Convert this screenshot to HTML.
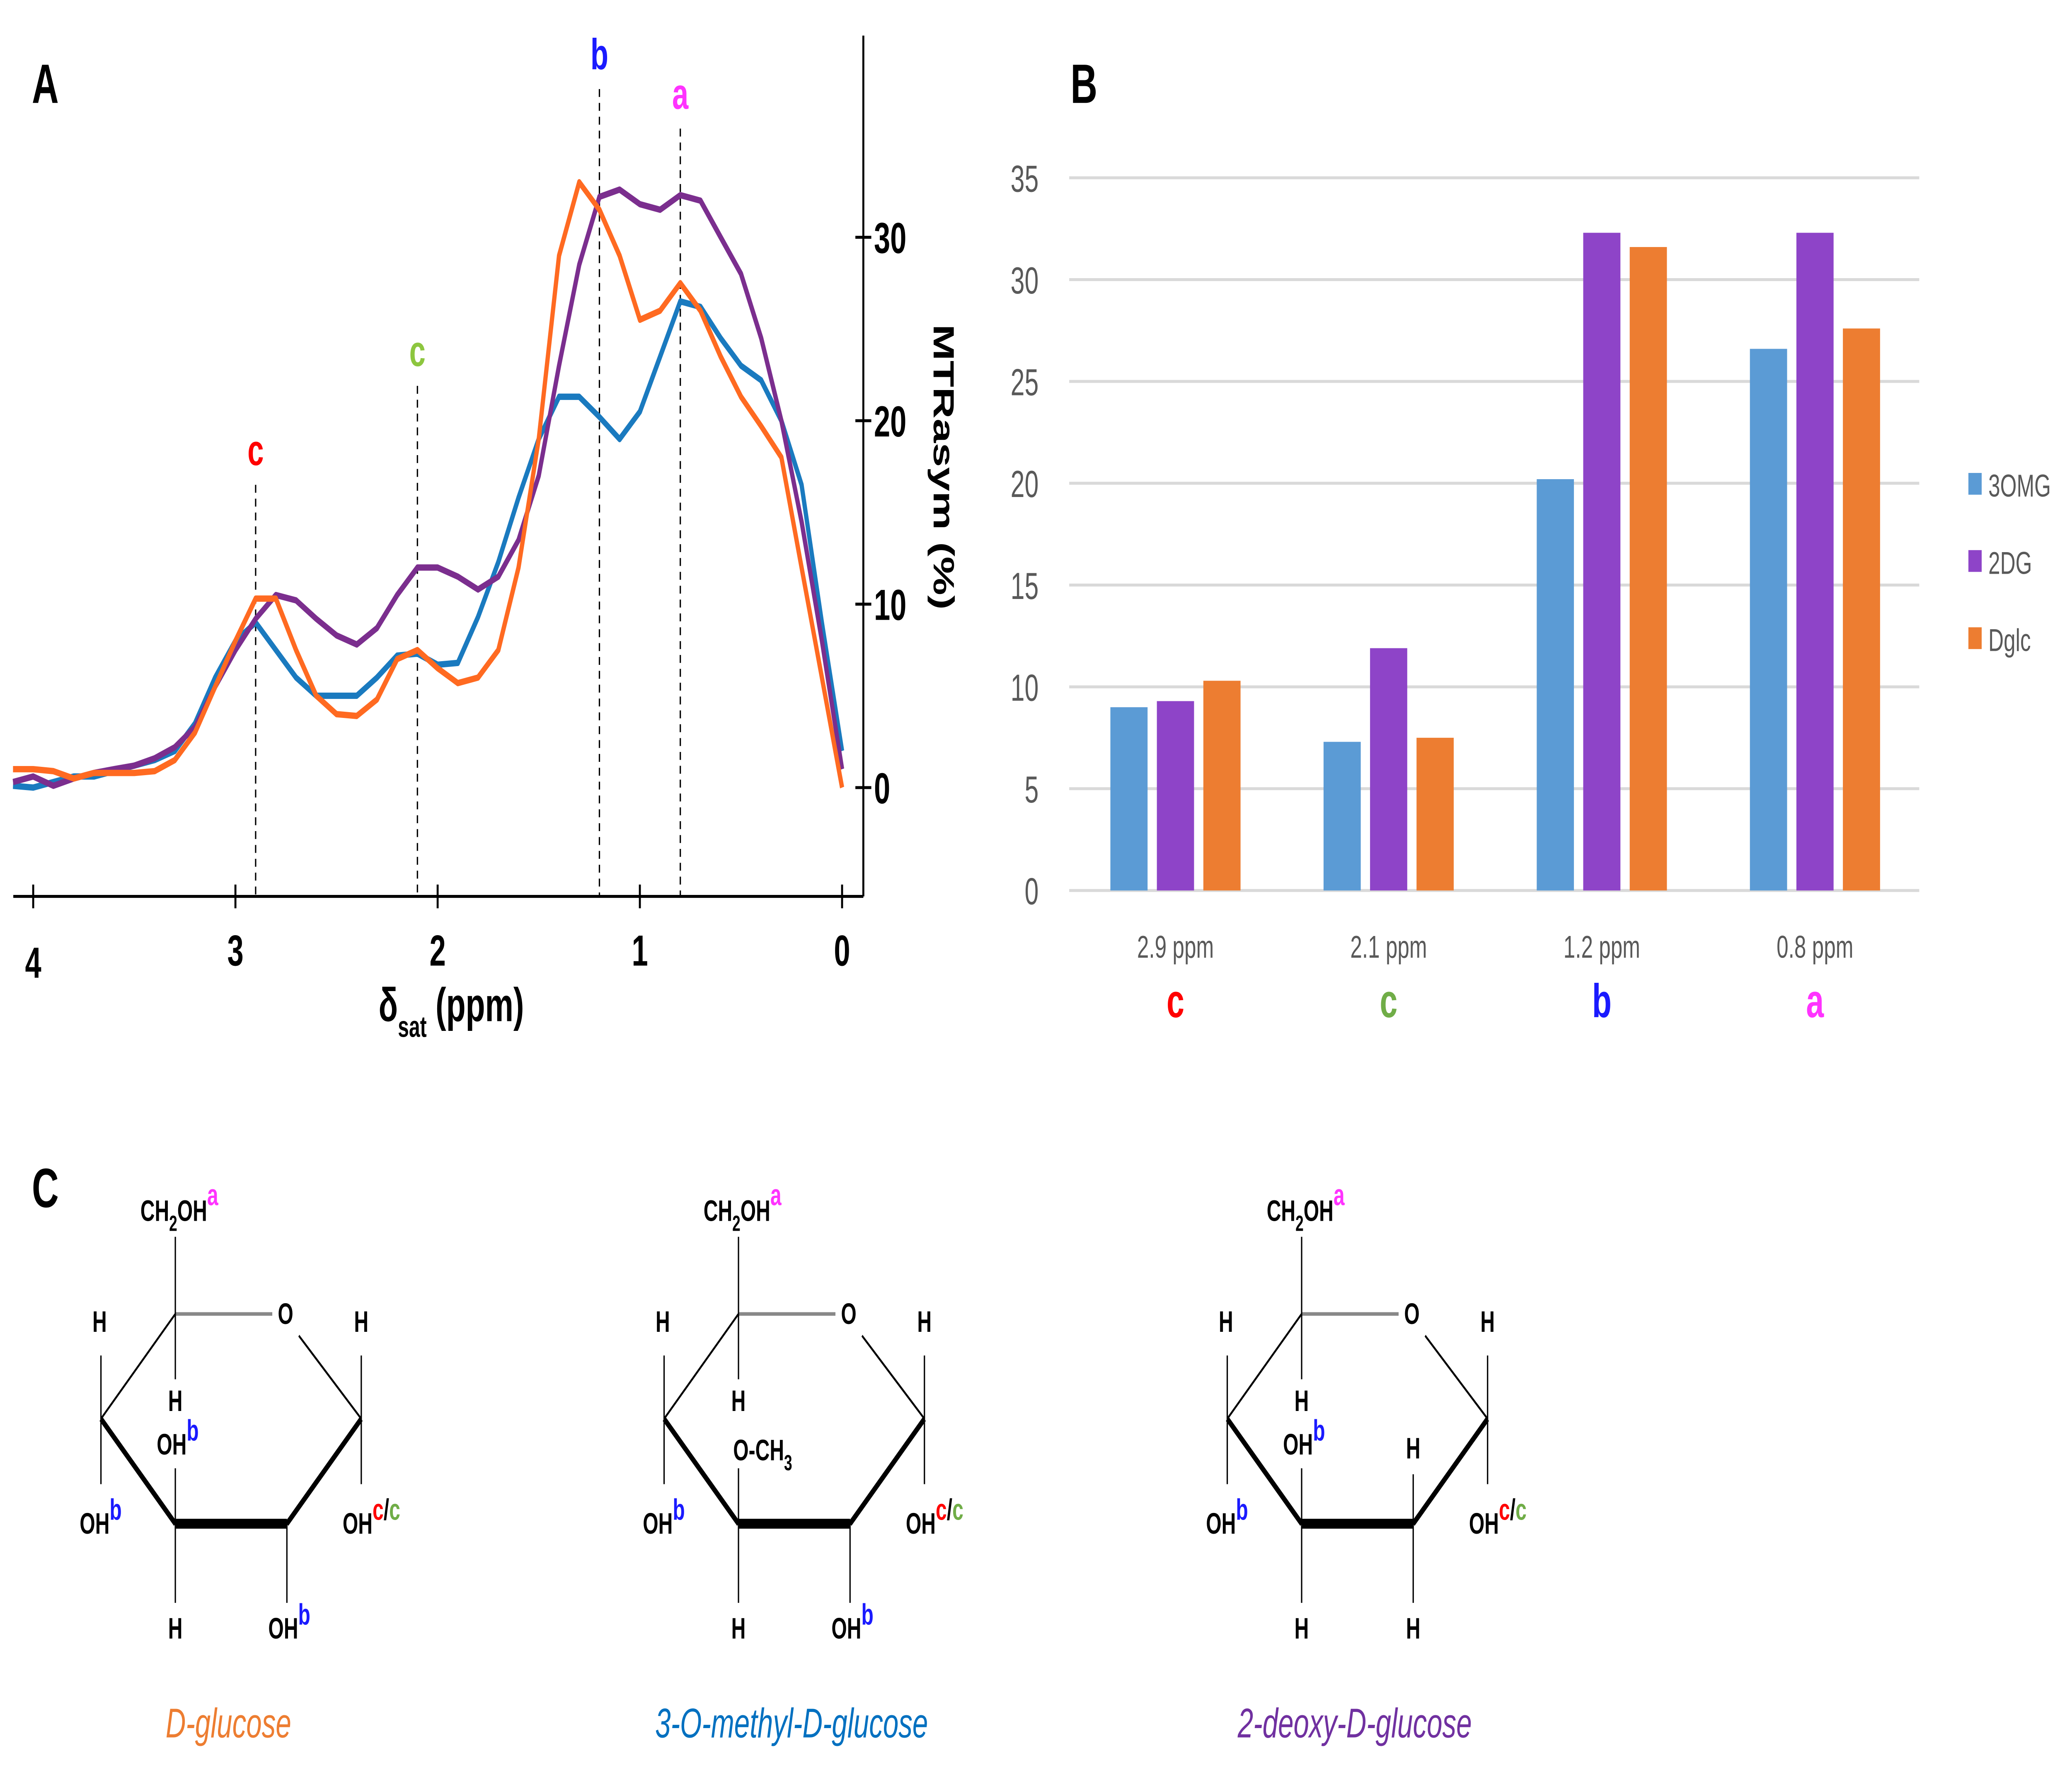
<!DOCTYPE html>
<html><head><meta charset="utf-8"><style>
html,body{margin:0;padding:0;background:#fff;overflow:hidden;width:100%;height:100%}
svg{display:block;width:100vw;height:100vh}
text{font-family:"Liberation Sans",sans-serif}
</style></head><body>
<svg id="fig" xmlns="http://www.w3.org/2000/svg" viewBox="0 0 1560 898" preserveAspectRatio="none">
<rect width="1560" height="898" fill="#fff"/>
<g id="panelA"></g>
<g id="panelB"></g>
<g id="panelC"></g>
</svg>
<script>
// ---- Panel A data ----
const ppmA = [4.1,4.0,3.9,3.8,3.7,3.6,3.5,3.4,3.3,3.2,3.1,3.0,2.9,2.8,2.7,2.6,2.5,2.4,2.3,2.2,2.1,2.0,1.9,1.8,1.7,1.6,1.5,1.4,1.3,1.2,1.1,1.0,0.9,0.8,0.7,0.6,0.5,0.4,0.3,0.2,0.1,0.0];
const blueA = [0.1,0,0.3,0.6,0.6,0.9,1.2,1.5,2,3.5,6,8,9,7.5,6,5,5,5,6,7.2,7.3,6.7,6.8,9.3,12.3,15.8,19,21.3,21.3,20.2,19,20.5,23.5,26.5,26.2,24.5,23,22.2,20,16.5,9,2];
const purpleA = [0.3,0.6,0.1,0.5,0.8,1.0,1.2,1.6,2.2,3.3,5.5,7.5,9.2,10.5,10.2,9.2,8.3,7.8,8.7,10.5,12,12,11.5,10.8,11.5,13.5,17,23,28.5,32.2,32.6,31.8,31.5,32.3,32,30,28,24.5,20,14.5,8,1];
const orangeA = [1.0,1.0,0.9,0.5,0.8,0.8,0.8,0.9,1.5,3,5.5,8,10.3,10.3,7.5,5,4,3.9,4.8,7,7.5,6.5,5.7,6,7.5,12,19,29,33,31.5,29,25.5,26,27.5,26,23.5,21.3,19.7,18,12,6,0];
const xTicksA = [4,3,2,1,0];
const yTicksA = [0,10,20,30];
const markersA = [[2.9,'c','#ff0000',245],[2.1,'c','#8dc63f',195],[1.2,'b','#1a1aff',45],[0.8,'a','#ff33ff',65]];
// ---- Panel B data ----
const catsB = ['2.9 ppm','2.1 ppm','1.2 ppm','0.8 ppm'];
const catLettersB = ['c','c','b','a'];
const omgB = [9,7.3,20.2,26.6];
const dgB = [9.3,11.9,32.3,32.3];
const dglcB = [10.3,7.5,31.6,27.6];
const yTicksB = [0,5,10,15,20,25,30,35];

const NS='http://www.w3.org/2000/svg';
function mk(parent,tag,attrs,txt){const e=document.createElementNS(NS,tag);for(const k in attrs)e.setAttribute(k,attrs[k]);if(txt!==undefined)e.textContent=txt;parent.appendChild(e);return e;}

// ===== Panel A =====
const A=document.getElementById('panelA');
const xA=p=>634-p*152.25;
const yA=v=>398-v*9.27;
let t=mk(A,'text',{x:24,y:52,'font-size':28,'font-weight':'bold'},'A');


let l=mk(A,'line',{x1:10,y1:453,x2:650,y2:453,stroke:'#000','stroke-width':1.5});


l=mk(A,'line',{x1:650,y1:18,x2:650,y2:453,stroke:'#000','stroke-width':1.5});


xTicksA.forEach(v=>{
  const x=xA(v);
  const tk=mk(A,'line',{x1:x,y1:447,x2:x,y2:459,stroke:'#000','stroke-width':1.5});
  
  
  const tl=mk(A,'text',{x:x,y:v===4?494:488,'font-size':22,'font-weight':'bold','text-anchor':'middle'},String(v));
  
  
});
yTicksA.forEach(v=>{
  const y=yA(v);
  const tk=mk(A,'line',{x1:644,y1:y,x2:656,y2:y,stroke:'#000','stroke-width':1.5});
  
  
  const tl=mk(A,'text',{x:658,y:y+8,'font-size':22,'font-weight':'bold'},String(v));
  
  
});
t=mk(A,'text',{x:0,y:0,'font-size':22,'font-weight':'bold','text-anchor':'middle',transform:'translate(703,236) rotate(90)'},'MTRasym (%)');


t=mk(A,'text',{x:285,y:516,'font-size':24,'font-weight':'bold'});


t.innerHTML='δ<tspan font-size="15" dy="8">sat</tspan><tspan dy="-8"> (ppm)</tspan>';
markersA.forEach(m=>{
  const x=xA(m[0]);
  const d=mk(A,'line',{x1:x,y1:m[3],x2:x,y2:453,stroke:'#000','stroke-width':1,'stroke-dasharray':'4,3'});
  
  
  const ml=mk(A,'text',{x:x,y:m[3]-10,'font-size':22,'font-weight':'bold',fill:m[2],'text-anchor':'middle'},m[1]);
  
  
});
[[blueA,'#1a7abf','series-3omg-line'],[purpleA,'#7b2e8e','series-2dg-line'],[orangeA,'#ff6a21','series-dglc-line']].forEach(s=>{
  const pts=s[0].map((v,i)=>xA(ppmA[i]).toFixed(1)+','+yA(v).toFixed(1)).join(' ');
  const pl=mk(A,'polyline',{points:pts,fill:'none',stroke:s[1],'stroke-width':3.2,'stroke-linejoin':'round'});
  
  
});

// ===== Panel B =====
const B=document.getElementById('panelB');
const yB=v=>450-v*10.29;
const xB=i=>885+i*160.5;
t=mk(B,'text',{x:806,y:52,'font-size':28,'font-weight':'bold'},'B');


yTicksB.forEach(v=>{
  const y=yB(v);
  const g=mk(B,'line',{x1:805,y1:y,x2:1445,y2:y,stroke:'#d9d9d9','stroke-width':1.5});
  
  
  const tl=mk(B,'text',{x:782,y:y+7,'font-size':19,fill:'#595959','text-anchor':'end'},String(v));
  
  
});
const seriesB=[[omgB,'#5b9bd5',-35,'bar-3omg'],[dgB,'#8e44c8',0,'bar-2dg'],[dglcB,'#ed7d31',35,'bar-dglc']];
const letterColorsB=['#ff0000','#70ad47','#1a1aff','#ff33ff'];
catsB.forEach((c,i)=>{
  seriesB.forEach(s=>{
    const v=s[0][i];
    const r=mk(B,'rect',{x:xB(i)+s[2]-14,y:yB(v),width:28,height:yB(0)-yB(v),fill:s[1]});
    
    
  });
  const cl=mk(B,'text',{x:xB(i),y:484,'font-size':16,fill:'#595959','text-anchor':'middle'},c);
  
  
  const ll=mk(B,'text',{x:xB(i),y:514,'font-size':24,'font-weight':'bold',fill:letterColorsB[i],'text-anchor':'middle'},catLettersB[i]);
  
  
});
[['3OMG','#5b9bd5',245],['2DG','#8e44c8',284],['Dglc','#ed7d31',323]].forEach(e=>{
  const g=mk(B,'g',{});
  
  
  mk(g,'rect',{x:1482,y:e[2]-6,width:10,height:11,fill:e[1]});
  mk(g,'text',{x:1497,y:e[2]+6,'font-size':16,fill:'#595959'},e[0]);
});

// ===== Panel C =====
const C=document.getElementById('panelC');
t=mk(C,'text',{x:24,y:610,'font-size':28,'font-weight':'bold'},'C');


function sup(g,x,y,main,parts,anchor){
  const tx=mk(g,'text',{x:x,y:y,'font-size':15,'font-weight':'bold','text-anchor':anchor||'middle'});
  tx.innerHTML=main+parts;
  return tx;
}
function structure(dx,variant,name,color,nameTag){
  const g=mk(C,'g',{transform:'translate('+dx+',0)'});
  
  
  const ln=(x1,y1,x2,y2,w,c)=>mk(g,'line',{x1,y1,x2,y2,stroke:c||'#000','stroke-width':w||1.2});
  ln(132,664,205,664,1.8,'#888');
  ln(225,675,272,717,1.2);
  ln(272,717,216,770,3);
  ln(216,770,132,770,5);
  ln(132,770,76,717,3);
  ln(76,717,132,664,1.2);
  ln(132,625,132,697,1);
  ln(76,685,76,750,1);
  ln(272,685,272,750,1);
  ln(132,742,132,810,1);
  ln(216,770,216,810,1);
  sup(g,135,617,'CH<tspan font-size="11" dy="5">2</tspan><tspan dy="-5">OH</tspan>','<tspan fill="#ff33ff" dy="-8">a</tspan>');
  mk(g,'text',{x:215,y:669,'font-size':15,'font-weight':'bold','text-anchor':'middle'},'O');
  mk(g,'text',{x:75,y:673,'font-size':15,'font-weight':'bold','text-anchor':'middle'},'H');
  mk(g,'text',{x:272,y:673,'font-size':15,'font-weight':'bold','text-anchor':'middle'},'H');
  mk(g,'text',{x:132,y:713,'font-size':15,'font-weight':'bold','text-anchor':'middle'},'H');
  mk(g,'text',{x:132,y:828,'font-size':15,'font-weight':'bold','text-anchor':'middle'},'H');
  sup(g,60,775,'OH','<tspan fill="#1a1aff" dy="-7">b</tspan>','start');
  sup(g,258,775,'OH','<tspan fill="#ff0000" dy="-7">c</tspan><tspan dy="0">/</tspan><tspan fill="#70ad47">c</tspan>','start');
  if(variant==='omg'){
    sup(g,128,738,'O-CH<tspan font-size="11" dy="5">3</tspan>','','start');
  }else{
    sup(g,118,735,'OH','<tspan fill="#1a1aff" dy="-7">b</tspan>','start');
  }
  if(variant==='dg'){
    mk(g,'text',{x:216,y:828,'font-size':15,'font-weight':'bold','text-anchor':'middle'},'H');
    ln(216,745,216,770,1);
    mk(g,'text',{x:216,y:737,'font-size':15,'font-weight':'bold','text-anchor':'middle'},'H');
  }else{
    sup(g,202,828,'OH','<tspan fill="#1a1aff" dy="-7">b</tspan>','start');
  }
  const nm=mk(g,'text',{x:172,y:878,'font-size':21,'font-style':'italic',fill:color,'text-anchor':'middle'},name);
  
  
}
structure(0,'glc','D-glucose','#ed7d31','d-glucose-structure');
structure(424,'omg','3-O-methyl-D-glucose','#0070c0','3-o-methyl-glucose-structure');
structure(848,'dg','2-deoxy-D-glucose','#7030a0','2-deoxy-glucose-structure');
</script>
</body></html>
